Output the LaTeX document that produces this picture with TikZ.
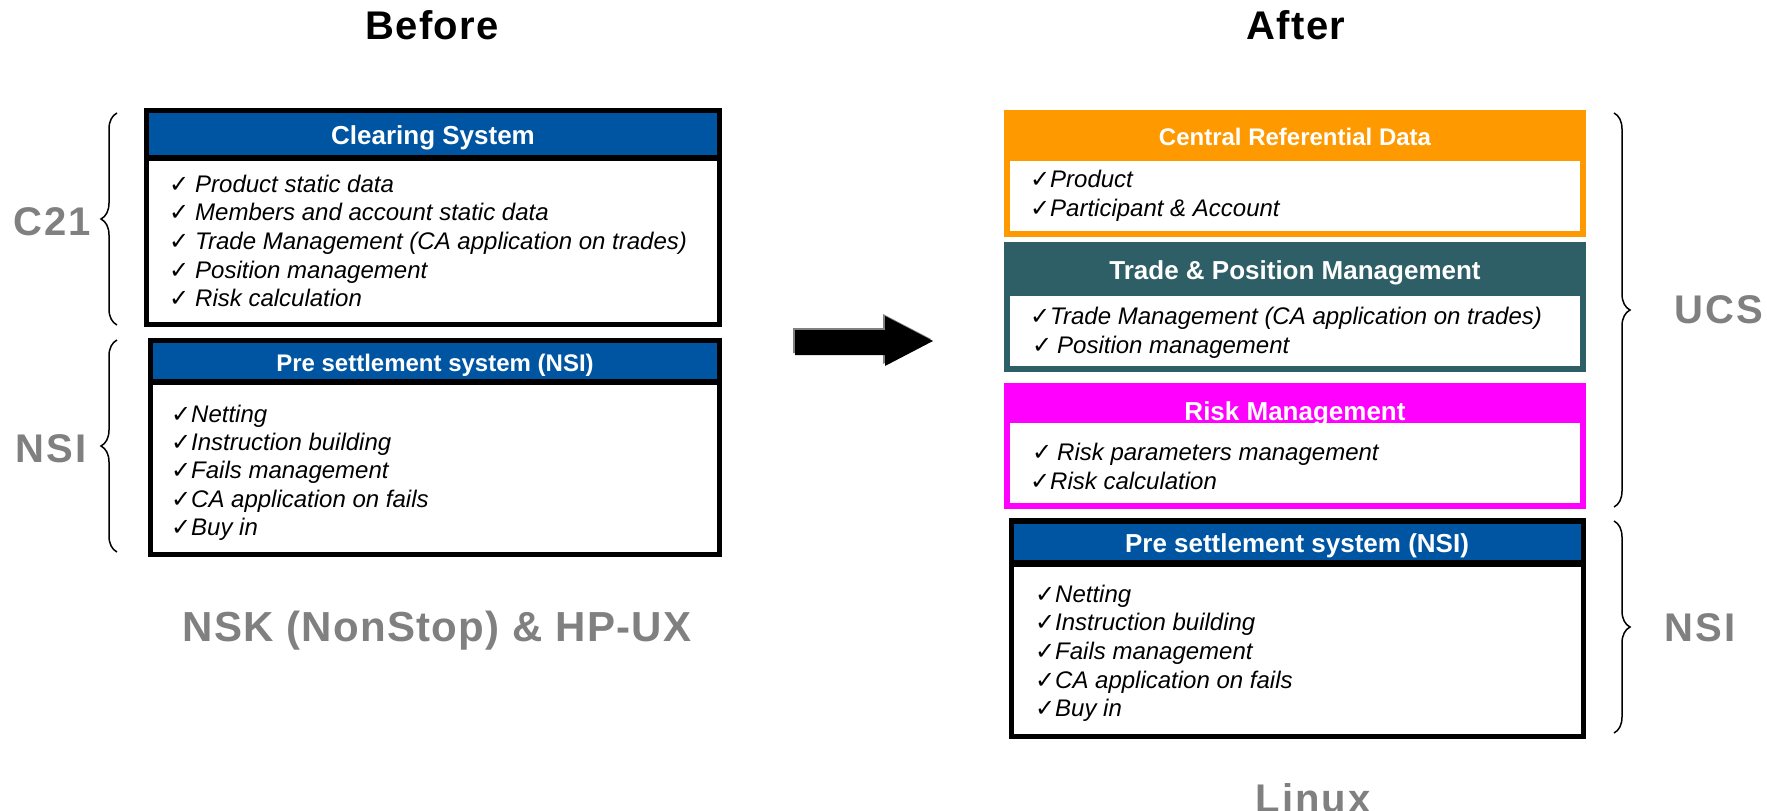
\documentclass[tikz,border=0pt]{standalone}
\usepackage{fontspec}
\setmainfont{Liberation Sans}
\newfontfamily\ckfont{DejaVu Sans}
\newfontfamily\lblfont{Liberation Sans}[LetterSpace=5]
\newfontfamily\ttlfont{Liberation Sans}[LetterSpace=3]
\newfontfamily\nskfont{Liberation Sans}[LetterSpace=3]
\usetikzlibrary{decorations.pathreplacing}
\definecolor{hblue}{HTML}{0055A3}
\definecolor{horange}{HTML}{FF9900}
\definecolor{hteal}{HTML}{2E5E66}
\definecolor{hmag}{HTML}{FF00FF}
\definecolor{lgray}{HTML}{808080}
\newcommand\ckg{{\ckfont\fontsize{24}{24}\selectfont ✓}}
\newcommand\cmk{\makebox[20pt][l]{\ckg}}
\newcommand\cmks{\makebox[26pt][l]{\ckg}}
\newcommand\cmkm{\makebox[25pt][l]{\ckg}}
\begin{document}
\begin{tikzpicture}[x=1pt,y=-1pt,
  hdr/.style={font=\fontsize{26}{30}\selectfont\bfseries, text=white, anchor=base, inner sep=0},
  hdrs/.style={hdr, font=\fontsize{24}{28}\selectfont\bfseries},
  item/.style={font=\fontsize{24}{28}\selectfont\itshape, anchor=base west, inner sep=0},
  glabel/.style={text=lgray, font=\lblfont\fontsize{40}{44}\selectfont\bfseries, inner sep=0},
  ttl/.style={text=black, font=\ttlfont\fontsize{40}{44}\selectfont\bfseries, inner sep=0},
  brc/.style={decorate, decoration={brace, amplitude=16pt}, line width=1.5pt}]
\clip (0,0) rectangle (1767,811);
\fill[white] (0,0) rectangle (1767,811);

% titles
\node[ttl] (before) at (432,25) {Before};
\node[ttl] (after) at (1296,25) {After};

% ---------- left: Clearing System ----------
\fill[black] (144,108) rectangle (722,327);
\fill[hblue] (149,113) rectangle (717,155);
\fill[white] (149,161) rectangle (717,322);
\node[hdr] (hclear) at (433,144) {Clearing System};
\foreach \t [count=\i] in {Product static data, Members and account static data, Trade Management (CA application on trades), Position management, Risk calculation}
  \node[item] (cl\i) at (169,{192+28.7*(\i-1)}) {\cmks\t};

% ---------- left: Pre settlement ----------
\fill[black] (148,338) rectangle (722,557);
\fill[hblue] (153,343) rectangle (717,379);
\fill[white] (153,385) rectangle (717,552);
\node[hdrs] (hnsil) at (435,371) {Pre settlement system (NSI)};
\foreach \t [count=\i] in {Netting, Instruction building, Fails management, CA application on fails, Buy in}
  \node[item] (nl\i) at (171,{422+28.4*(\i-1)}) {\cmk\t};

% braces left
\draw[brc] (117,325) -- (117,113);
\draw[brc] (117,552) -- (117,340);
\node[glabel] (c21) at (52,222) {C21};
\node[glabel] (nsil) at (51,449) {NSI};
\node[text=lgray, font=\nskfont\fontsize{42}{46}\selectfont\bfseries, inner sep=0] (nsk) at (437,631) {NSK (NonStop) \& HP-UX};

% arrow
\fill[lgray] (793,328) -- (883,328) -- (883,314) -- (931,339) -- (883,364) -- (883,353) -- (793,353) -- cycle;
\fill[black] (795,330) -- (885,330) -- (885,316) -- (933,341) -- (885,366) -- (885,355) -- (795,355) -- cycle;

% ---------- right: Central Referential Data ----------
\fill[horange] (1004,110) rectangle (1586,237);
\node[hdrs] (hcrd) at (1295,145) {Central Referential Data};
\fill[white] (1010,161) rectangle (1580,231);
\node[item] (cr1) at (1030,187) {\cmk Product};
\node[item] (cr2) at (1030,216) {\cmk Participant \& Account};

% ---------- right: Trade & Position Management ----------
\fill[hteal] (1004,242) rectangle (1586,372);
\node[hdr] (htpm) at (1295,279) {Trade \& Position Management};
\fill[white] (1010,296) rectangle (1580,366);
\node[item] (tp1) at (1030,324) {\cmk Trade Management (CA application on trades)};
\node[item] (tp2) at (1032,353) {\cmkm Position management};

% ---------- right: Risk Management ----------
\fill[hmag] (1004,383) rectangle (1586,509);
\node[hdr] (hrisk) at (1295,420) {Risk Management};
\fill[white] (1010,423) rectangle (1580,503);
\node[item] (rk1) at (1032,460) {\cmkm Risk parameters management};
\node[item] (rk2) at (1030,489) {\cmk Risk calculation};

% ---------- right: Pre settlement ----------
\fill[black] (1009,518) rectangle (1586,739);
\fill[hblue] (1014,524) rectangle (1581,560);
\fill[white] (1014,567) rectangle (1581,734);
\node[hdr] (hnsir) at (1297,552) {Pre settlement system (NSI)};
\foreach \t [count=\i] in {Netting, Instruction building, Fails management, CA application on fails, Buy in}
  \node[item] (nr\i) at (1035,{602+28.7*(\i-1)}) {\cmk\t};

% braces right
\draw[brc] (1614,113) -- (1614,507);
\draw[brc] (1614,521) -- (1614,733);
\node[glabel] (ucs) at (1719,310) {UCS};
\node[glabel] (nsir) at (1700,628) {NSI};
\node[glabel, anchor=base] (linux) at (1313,812) {Linux};
\end{tikzpicture}
\end{document}
